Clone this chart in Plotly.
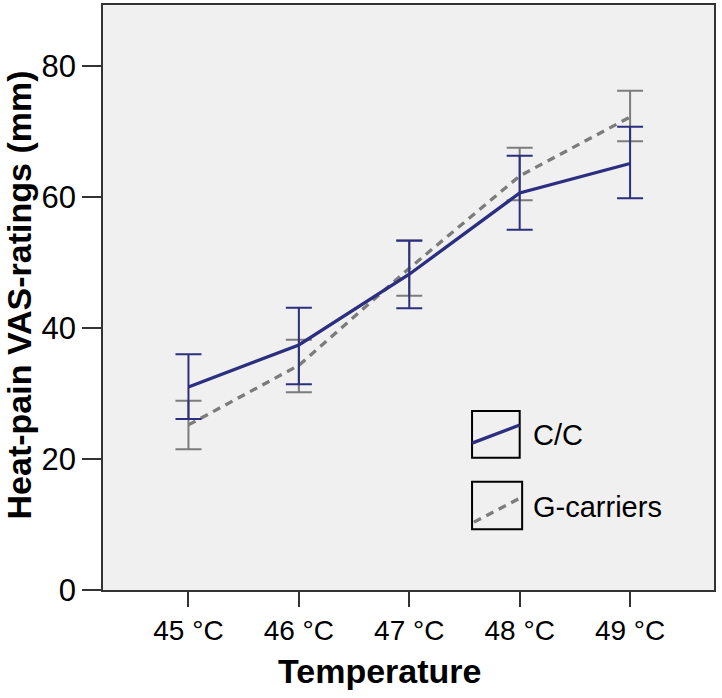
import plotly.graph_objects as go

categories = ["45 °C", "46 °C", "47 °C", "48 °C", "49 °C"]

cc_mean = [31.0, 37.4, 48.2, 60.6, 65.1]
cc_upper = [36.0, 43.1, 53.3, 66.3, 70.7]
cc_lower = [26.1, 31.4, 43.0, 55.0, 59.8]

g_mean = [25.2, 34.3, 49.1, 63.2, 72.2]
g_upper = [28.9, 38.2, 53.4, 67.5, 76.2]
g_lower = [21.5, 30.2, 44.9, 59.5, 68.5]

y_ticks = [0, 20, 40, 60, 80]

NAVY = "#2c2e80"
GRAY = "#7c7c7c"
FONT = "Arial, Liberation Sans, sans-serif"

x_idx = list(range(len(categories)))

fig = go.Figure()

fig.add_trace(go.Scatter(
    x=x_idx, y=g_mean, mode="lines", name="G-carriers",
    line=dict(color=GRAY, width=3.3, dash="8px,6px"),
    error_y=dict(type="data", symmetric=False,
                 array=[u - m for u, m in zip(g_upper, g_mean)],
                 arrayminus=[m - l for m, l in zip(g_mean, g_lower)],
                 color=GRAY, thickness=2, width=13),
    showlegend=False,
))
fig.add_trace(go.Scatter(
    x=x_idx, y=cc_mean, mode="lines", name="C/C",
    line=dict(color=NAVY, width=3.3),
    error_y=dict(type="data", symmetric=False,
                 array=[u - m for u, m in zip(cc_upper, cc_mean)],
                 arrayminus=[m - l for m, l in zip(cc_mean, cc_lower)],
                 color=NAVY, thickness=2, width=13),
    showlegend=False,
))

# custom legend (boxes with line samples)
shapes = [
    dict(type="rect", xref="paper", yref="paper", x0=0.604, x1=0.682, y0=0.226, y1=0.306,
         line=dict(color="black", width=2)),
    dict(type="line", xref="paper", yref="paper", x0=0.604, x1=0.682, y0=0.251, y1=0.282,
         line=dict(color=NAVY, width=3.3)),
    dict(type="rect", xref="paper", yref="paper", x0=0.604, x1=0.686, y0=0.104, y1=0.185,
         line=dict(color="black", width=2)),
    dict(type="line", xref="paper", yref="paper", x0=0.607, x1=0.686, y0=0.116, y1=0.159,
         line=dict(color=GRAY, width=3.3, dash="8px,6px")),
]
annotations = [
    dict(text="C/C", xref="paper", yref="paper", x=0.700, y=0.265, xanchor="left",
         yanchor="middle", showarrow=False, font=dict(family=FONT, size=29, color="black")),
    dict(text="G-carriers", xref="paper", yref="paper", x=0.700, y=0.142, xanchor="left",
         yanchor="middle", showarrow=False, font=dict(family=FONT, size=29, color="black")),
    dict(text="<b>Temperature</b>", xref="paper", yref="paper", x=0.453, y=-0.102,
         xanchor="center", yanchor="top", showarrow=False,
         font=dict(family=FONT, size=34, color="black")),
    dict(text="<b>Heat-pain VAS-ratings (mm)</b>", xref="paper", yref="paper",
         x=-0.137, y=0.504, xanchor="center", yanchor="middle", textangle=-90,
         showarrow=False, font=dict(family=FONT, size=34, color="black")),
]

fig.update_layout(
    width=722, height=698,
    margin=dict(l=103, r=8, t=5, b=108),
    paper_bgcolor="white",
    plot_bgcolor="#f0f0f0",
    font=dict(family=FONT, color="black"),
    shapes=shapes,
    annotations=annotations,
    showlegend=False,
)
fig.update_xaxes(
    range=[-0.774, 4.76],
    tickvals=x_idx, ticktext=categories,
    ticks="outside", ticklen=15, tickwidth=1.5, tickcolor="#333",
    showline=True, linecolor="#333", linewidth=1.5, mirror=True,
    showgrid=False, zeroline=False,
    tickfont=dict(family=FONT, size=28),
    automargin=False,
)
fig.update_yaxes(
    range=[0, 89.3],
    tickvals=y_ticks,
    ticks="outside", ticklen=19, tickwidth=1.5, tickcolor="#333",
    showline=True, linecolor="#333", linewidth=1.5, mirror=True,
    showgrid=False, zeroline=False,
    tickfont=dict(family=FONT, size=31),
    automargin=False,
)

fig.write_html("out.html", config={"displayModeBar": False},
               post_script="document.body.style.margin='0';")
